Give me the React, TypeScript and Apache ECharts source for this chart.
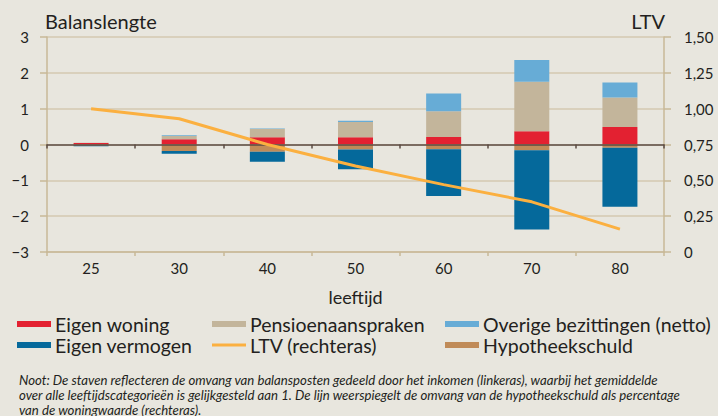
import React, { useEffect, useRef } from "react";
import * as echarts from "echarts";

const categories = ["25", "30", "40", "50", "60", "70", "80"];
const eigenWoning = [0.04, 0.15, 0.2, 0.2, 0.21, 0.37, 0.49];
const pensioen = [0.01, 0.09, 0.23, 0.43, 0.72, 1.38, 0.82];
const overige = [0.0, 0.02, 0.02, 0.03, 0.49, 0.61, 0.42];
const hypotheek = [-0.03, -0.18, -0.2, -0.14, -0.13, -0.16, -0.09];
const eigenVermogen = [-0.02, -0.08, -0.28, -0.55, -1.31, -2.21, -1.65];
const ltv = [1.0, 0.93, 0.75, 0.6, 0.47, 0.35, 0.16];

const noteLines = [
  "Noot: De staven reflecteren de omvang van balansposten gedeeld door het inkomen (linkeras), waarbij het gemiddelde",
  "over alle leeftijdscategorieën is gelijkgesteld aan 1. De lijn weerspiegelt de omvang van de hypotheekschuld als percentage",
  "van de woningwaarde (rechteras).",
];

const C = {
  red: "#e32131",
  tan: "#c3b59b",
  light: "#67acd6",
  blue: "#05699b",
  orange: "#fbb040",
  brown: "#c08b58",
  bg: "#e8e6de",
  grid: "#d4c9b0",
  axis: "#c8b897",
  zero: "#5b4b43",
  text: "#231f20",
};

const FONT = "Lato";

export default function App() {
  const ref = useRef<HTMLDivElement>(null);
  useEffect(() => {
    if (!ref.current) return;
    const chart = echarts.init(ref.current, undefined, { renderer: "svg" });
    const row1 = 314;
    const row2 = 335;
    const leg = (name: string, left: number, top: number, h = 6) => ({
      show: true,
      data: [name],
      left,
      top,
      padding: 0,
      itemWidth: 34,
      itemHeight: h,
      icon: "rect",
      selectedMode: false,
      textStyle: { fontFamily: FONT, fontSize: 19.5, lineHeight: 20, color: C.text, padding: [0, 0, 0, -1] },
    });
    const bar = (name: string, data: number[], color: string) => ({
      name,
      type: "bar",
      stack: "total",
      data,
      barWidth: 35,
      itemStyle: { color },
      xAxisIndex: 0,
      yAxisIndex: 0,
      z: 2,
    });
    chart.setOption({
      animation: false,
      backgroundColor: C.bg,
      textStyle: { fontFamily: FONT },
      grid: { left: 47, right: 54, top: 37, bottom: 164 },
      legend: [
        leg("Eigen woning", 17, row1),
        leg("Pensioenaanspraken", 212, row1),
        leg("Overige bezittingen (netto)", 445, row1),
        leg("Eigen vermogen", 17, row2),
        leg("LTV (rechteras)", 212, row2, 3),
        leg("Hypotheekschuld", 445, row2),
      ],
      xAxis: [
        {
          type: "category",
          data: categories,
          position: "bottom",
          axisLine: { onZero: false, lineStyle: { color: C.axis, width: 1.5 } },
          axisTick: { show: true, length: 4, lineStyle: { color: C.axis, width: 1.5 } },
          axisLabel: { fontFamily: FONT, fontSize: 15, color: C.text, margin: 8 },
          name: "leeftijd",
          nameLocation: "middle",
          nameGap: 36,
          nameTextStyle: { fontFamily: FONT, fontSize: 18, color: C.text },
          z: 1,
        },
        {
          type: "category",
          data: categories,
          position: "top",
          axisLine: { onZero: true, onZeroAxisIndex: 0, lineStyle: { color: C.zero, width: 1.5 } },
          axisTick: { show: true, inside: true, length: 4, lineStyle: { color: C.zero, width: 1.5 } },
          axisLabel: { show: false },
          z: 5,
        },
      ],
      yAxis: [
        {
          type: "value",
          min: -3,
          max: 3,
          interval: 1,
          position: "left",
          name: "Balanslengte",
          nameLocation: "end",
          nameGap: 6,
          nameTextStyle: { fontFamily: FONT, fontSize: 20, color: C.text, align: "left", padding: [0, 0, 0, -2] },
          axisLine: { show: true, lineStyle: { color: C.axis, width: 1.5 } },
          axisTick: { show: true, length: 7, lineStyle: { color: C.axis, width: 1.5 } },
          splitLine: { show: true, lineStyle: { color: C.grid, width: 1.5 } },
          axisLabel: {
            fontFamily: FONT,
            fontSize: 15,
            color: C.text,
            margin: 18,
            formatter: (v: number) => (v < 0 ? "\u2212" + Math.abs(v) : String(v)),
          },
          z: 0,
        },
        {
          type: "value",
          min: 0,
          max: 1.5,
          interval: 0.25,
          position: "right",
          name: "LTV",
          nameLocation: "end",
          nameGap: 6,
          nameTextStyle: { fontFamily: FONT, fontSize: 20, color: C.text, align: "right", padding: [0, -1, 0, 0] },
          axisLine: { show: true, lineStyle: { color: C.axis, width: 1.5 } },
          axisTick: { show: true, length: 7, lineStyle: { color: C.axis, width: 1.5 } },
          splitLine: { show: false },
          axisLabel: {
            fontFamily: FONT,
            fontSize: 15,
            color: C.text,
            margin: 20,
            formatter: (v: number) => (v === 0 ? "0" : v.toFixed(2).replace(".", ",")),
          },
          z: 0,
        },
      ],
      series: [
        bar("Eigen woning", eigenWoning, C.red),
        bar("Pensioenaanspraken", pensioen, C.tan),
        bar("Overige bezittingen (netto)", overige, C.light),
        bar("Hypotheekschuld", hypotheek, C.brown),
        bar("Eigen vermogen", eigenVermogen, C.blue),
        {
          name: "LTV (rechteras)",
          type: "line",
          data: ltv,
          yAxisIndex: 1,
          xAxisIndex: 0,
          symbol: "none",
          lineStyle: { color: C.orange, width: 3 },
          itemStyle: { color: C.orange },
          z: 10,
        },
      ],
      graphic: noteLines.map((t, i) => ({
        type: "text",
        left: 19,
        top: 373 + i * 15,
        style: {
          text: t,
          fontFamily: FONT,
          fontStyle: "italic",
          fontSize: 13.2,
          fill: C.text,
        },
      })),
    });
    return () => chart.dispose();
  }, []);
  return (
    <div
      ref={ref}
      style={{ position: "absolute", left: 0, top: 0, width: 718, height: 416 }}
    />
  );
}
